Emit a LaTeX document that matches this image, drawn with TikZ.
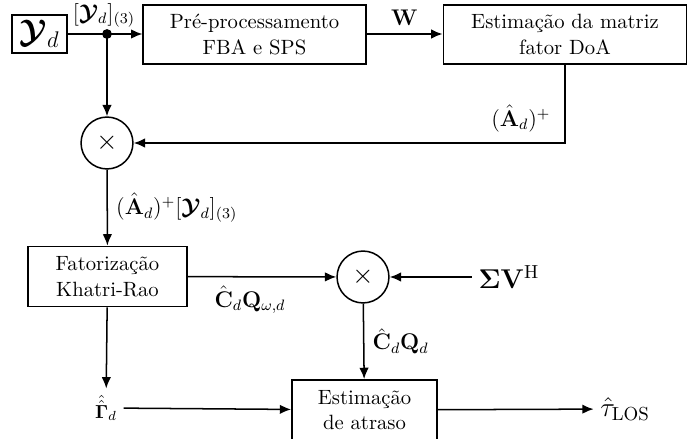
\documentclass[tikz,border=0pt]{standalone}
\usepackage{amsmath,bm}
\usetikzlibrary{arrows.meta}
\begin{document}
\begin{tikzpicture}[x=0.53pt,y=-0.53pt,
  blk/.style={draw,line width=0.8pt,align=center,inner sep=0pt,font=\fontsize{10.95}{13.6}\selectfont},
  mult/.style={draw,circle,line width=0.8pt,minimum size=27.5pt,inner sep=0pt},
  conn/.style={line width=0.8pt,-{Latex[length=6pt,width=5pt]}},
  plain/.style={line width=0.8pt},
  lbl/.style={font=\large}]
\useasboundingbox (0,0) rectangle (699,439);
\node[draw,line width=0.8pt,inner sep=0pt,minimum width=29pt,minimum height=20pt] (yd) at (39.5,34) {\LARGE$\bm{\mathcal{Y}}_d$};
\coordinate (dot) at (107,34);
\fill (dot) circle (2.6pt);
\node[lbl,anchor=south,inner sep=0.5pt] (ylab) at (104,29) {$[\bm{\mathcal{Y}}_d]_{(3)}$};
\node[blk,minimum width=118pt,minimum height=31pt] (pre) at (254.5,34.5) {Pré-processamento\\FBA e SPS};
\node[blk,minimum width=129pt,minimum height=31pt] (est) at (565,34.5) {Estimação da matriz\\fator DoA};
\node[mult] (c1) at (107,143) {\Large$\times$};
\node[blk,minimum width=84pt,minimum height=32pt] (fat) at (107.5,276.5) {Fatorização\\Khatri-Rao};
\node[mult] (c2) at (363,277) {\Large$\times$};
\node (sv) at (509,277) {\Large$\bm{\Sigma}\mathbf{V}^{\mathrm{H}}$};
\node[blk,minimum width=77pt,minimum height=32pt] (atr) at (364.5,410) {Estimação\\de atraso};
\node (gam) at (106,408) {$\hat{\hat{\bm{\Gamma}}}_d$};
\node (tau) at (625,409) {\Large$\hat{\tau}_{\mathrm{LOS}}$};
\draw[plain] (yd.east) -- (dot);
\draw[conn] (dot) -- (pre.west |- dot);
\draw[conn] (pre.east |- dot) -- node[lbl,above=1pt] {$\mathbf{W}$} (est.west |- dot);
\draw[conn] (dot) -- (c1);
\draw[conn] (est.south) -- (est.south |- c1) node[lbl,anchor=south east,xshift=-4pt,yshift=2pt] {$(\hat{\mathbf{A}}_d)^{+}$} -- (c1);
\draw[conn] (c1) -- node[lbl,right=1pt,pos=0.5] {$(\hat{\mathbf{A}}_d)^{+}[\bm{\mathcal{Y}}_d]_{(3)}$} (fat);
\draw[conn] (fat) -- node[lbl,below=1pt,pos=0.42] {$\hat{\mathbf{C}}_d\mathbf{Q}_{\omega,d}$} (c2);
\draw[conn] (sv) -- (c2);
\draw[conn] (c2) -- node[lbl,right=1pt] {$\hat{\mathbf{C}}_d\mathbf{Q}_d$} (atr);
\draw[conn] (fat) -- (gam);
\draw[conn] (gam) -- (atr);
\draw[conn] (atr) -- (tau);
\end{tikzpicture}
\end{document}
